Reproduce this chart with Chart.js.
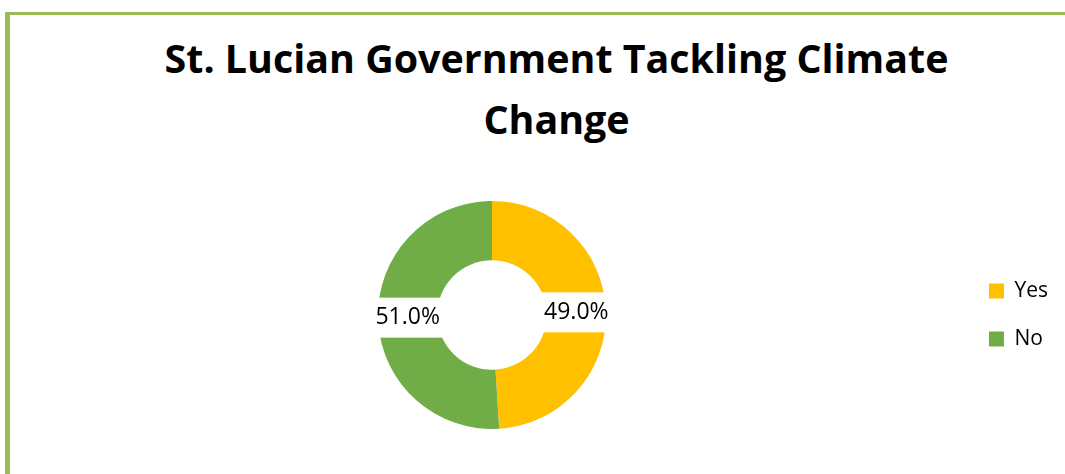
<!DOCTYPE html>
<html>
<head>
<meta charset="utf-8">
<title>St. Lucian Government Tackling Climate Change</title>
<script src="https://cdn.jsdelivr.net/npm/chart.js@4/dist/chart.umd.min.js"></script>
<style>
    html, body { margin: 0; padding: 0; background: #fff; overflow: hidden; }
    body { width: 1065px; height: 474px; position: relative; }
    /* olive frame: left and top edges only */
    #frame {
        position: absolute; left: 5px; top: 12px; width: 1100px; height: 500px;
        border-left: 5px solid #9bbb59; border-top: 3px solid #9bbb59;
    }
    #title {
        position: absolute; left: 100px; width: 913px; top: 28px; margin: 0;
        text-align: center; color: #000;
        font: bold 39.4px/61px 'Open Sans', sans-serif;
    }
    #surveyChart { position: absolute; left: 10px; top: 150px; }
</style>
</head>
<body>
<div id="frame"></div>
<h1 id="title">St. Lucian Government Tackling Climate<br>Change</h1>
<canvas id="surveyChart" width="1055" height="324"></canvas>

<script>
// ===== 데이터 =====
const categories = ['Yes', 'No'];
const shares = [49.0, 51.0];
const sliceColors = ['#ffc000', '#70ad47'];

// 조각 가운데에 흰 바탕 퍼센트 라벨
const sliceLabels = {
    id: 'sliceLabels',
    afterDatasetsDraw(chart) {
        const ctx = chart.ctx;
        const meta = chart.getDatasetMeta(0);
        ctx.save();
        ctx.font = '23px "Open Sans", sans-serif';
        ctx.textAlign = 'center';
        ctx.textBaseline = 'middle';
        meta.data.forEach((arc, i) => {
            const pos = arc.tooltipPosition();
            const text = shares[i].toFixed(1) + '%';
            const w = ctx.measureText(text).width + 6;
            const h = 40;
            ctx.fillStyle = '#fff';
            ctx.fillRect(pos.x - w / 2, pos.y - h / 2, w, h);
            ctx.fillStyle = '#000';
            ctx.fillText(text, pos.x, pos.y);
        });
        ctx.restore();
    }
};

Chart.defaults.font.family = "'Open Sans', sans-serif";

const ctx = document.getElementById('surveyChart').getContext('2d');
const surveyChart = new Chart(ctx, {
    type: 'doughnut',
    data: {
        labels: categories,
        datasets: [{
            data: shares,
            backgroundColor: sliceColors,
            borderWidth: 0,
            radius: 114,
            cutout: '48%'
        }]
    },
    options: {
        responsive: false,
        animation: false,
        layout: { padding: { left: 12, right: 7, top: 26, bottom: 20 } },
        plugins: {
            title: { display: false },
            tooltip: { enabled: false },
            legend: {
                position: 'right',
                fullSize: false,
                labels: {
                    boxWidth: 15,
                    boxHeight: 15,
                    padding: 27,
                    color: '#000',
                    font: { size: 21 }
                }
            }
        }
    },
    plugins: [sliceLabels]
});
</script>
</body>
</html>
